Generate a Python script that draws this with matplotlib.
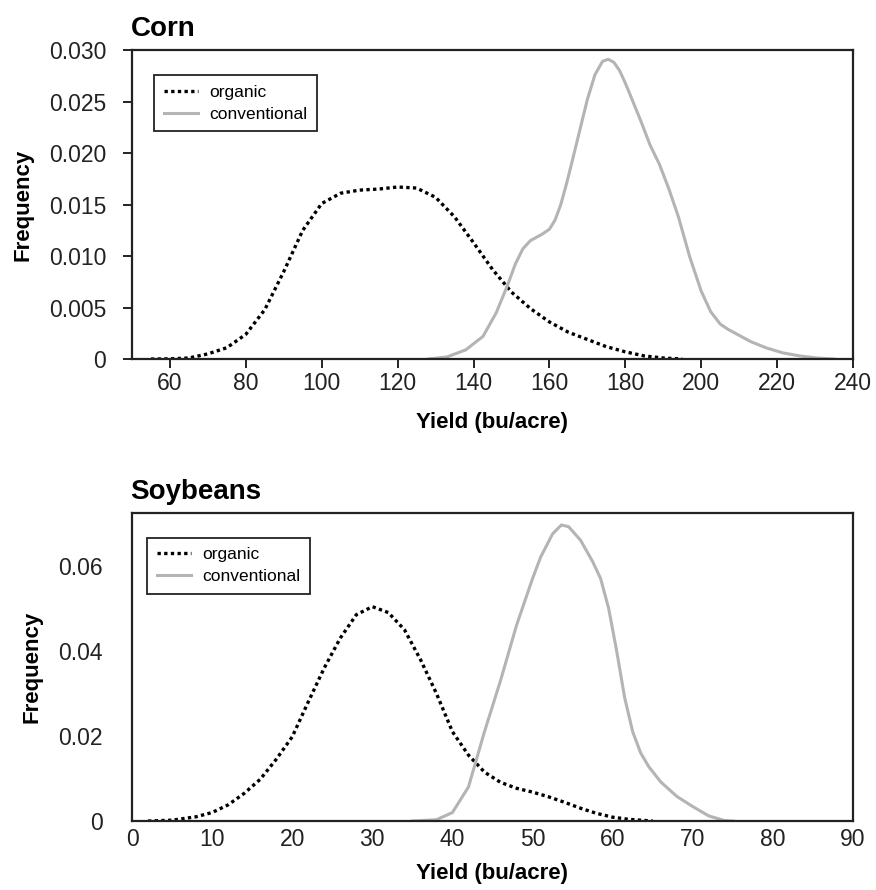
import matplotlib
matplotlib.use("Agg")
import matplotlib.pyplot as plt

plt.rcParams["font.family"] = ["Liberation Sans", "DejaVu Sans"]

# Corn yield density (bu/acre vs frequency)
corn_org_x = [55, 60, 65, 70, 75, 80, 85, 90, 95, 100, 105, 110, 115, 120, 125,
              130, 135, 140, 145, 150, 155, 160, 165, 170, 175, 180, 185, 190, 195]
corn_org_y = [0.0, 0.00002, 0.0001, 0.0005, 0.0011, 0.0024, 0.0048, 0.0085, 0.0125,
              0.0151, 0.0161, 0.0164, 0.0165, 0.0167, 0.0166, 0.0157, 0.0138, 0.0113,
              0.0087, 0.0065, 0.0049, 0.0036, 0.0026, 0.0019, 0.0012, 0.0007, 0.0003,
              0.0001, 0.0]

corn_conv_x = [128, 133, 138, 142.5, 146, 149, 151, 153, 155, 158, 160, 161.5, 163,
               164.5, 166, 168, 170, 172, 174, 175.5, 177, 178.5, 180, 182, 184,
               186.5, 189, 191.5, 194, 197, 200, 202.5, 205, 207, 210, 213, 217,
               221.5, 226, 230.5, 235]
corn_conv_y = [0.0, 0.0002, 0.0009, 0.0022, 0.0045, 0.0072, 0.0092, 0.0107, 0.0115,
               0.0121, 0.0126, 0.0135, 0.0150, 0.0170, 0.0192, 0.0222, 0.0252, 0.0276,
               0.0289, 0.0291, 0.0288, 0.0280, 0.0268, 0.0250, 0.0232, 0.0208, 0.0189,
               0.0165, 0.0138, 0.0099, 0.0066, 0.0046, 0.0034, 0.0029, 0.0023, 0.0017,
               0.0011, 0.0006, 0.0003, 0.0001, 0.0]

# Soybean yield density
soy_org_x = [2, 5, 8, 10, 12, 14, 16, 18, 20, 22, 24, 26, 28, 30, 32, 34, 36, 38,
             40, 42, 44, 46, 48, 50, 52, 54, 56, 58, 60, 62, 65]
soy_org_y = [0.0, 0.0002, 0.001, 0.002, 0.0038, 0.0065, 0.0098, 0.0145, 0.0198,
             0.028, 0.036, 0.043, 0.0485, 0.0504, 0.049, 0.045, 0.038, 0.030, 0.021,
             0.0155, 0.0115, 0.0091, 0.0077, 0.0068, 0.0057, 0.0044, 0.0030, 0.0018,
             0.0009, 0.0004, 0.0]

soy_conv_x = [35, 38, 40, 42, 44, 46, 48, 50, 51, 52.5, 53.6, 54.5, 56, 57.5, 58.5,
              59.5, 60.5, 61.5, 62.5, 63.5, 64.5, 66, 68, 70, 72, 74, 75]
soy_conv_y = [0.0, 0.0003, 0.002, 0.008, 0.021, 0.033, 0.046, 0.057, 0.062, 0.0675,
              0.0696, 0.0692, 0.066, 0.061, 0.057, 0.050, 0.040, 0.029, 0.021, 0.016,
              0.0128, 0.0092, 0.0058, 0.0034, 0.0012, 0.0001, 0.0]

corn_xticks = [60, 80, 100, 120, 140, 160, 180, 200, 220, 240]
corn_yticks = [0, 0.005, 0.010, 0.015, 0.020, 0.025, 0.030]
corn_ylabels = ["0", "0.005", "0.010", "0.015", "0.020", "0.025", "0.030"]
soy_xticks = [0, 10, 20, 30, 40, 50, 60, 70, 80, 90]
soy_yticks = [0, 0.02, 0.04, 0.06]
soy_ylabels = ["0", "0.02", "0.04", "0.06"]

ORG_COLOR = "black"
CONV_COLOR = "#b4b4b4"

fig = plt.figure(figsize=(8.76, 8.90), dpi=100)
ax1 = fig.add_axes([0.1507, 0.5966, 0.823, 0.3472])
ax2 = fig.add_axes([0.1507, 0.0775, 0.823, 0.3465])


def style_panel(ax, title, ticks_on, leg_anchor, ylab_x, xlab_pad):
    for sp in ax.spines.values():
        sp.set_linewidth(1.6)
        sp.set_color("#222222")
    ax.set_title(title, loc="left", fontsize=20, fontweight="bold", pad=10, x=-0.002)
    ax.set_xlabel("Yield (bu/acre)", fontsize=16, fontweight="bold", labelpad=xlab_pad)
    ax.set_ylabel("Frequency", fontsize=16, fontweight="bold")
    ax.yaxis.set_label_coords(ylab_x, 0.5)
    if ticks_on:
        ax.tick_params(axis="x", direction="out", length=6.5, width=1.4,
                       labelsize=16.5, pad=3, colors="#222222")
        ax.tick_params(axis="y", direction="out", length=6.5, width=1.4,
                       labelsize=16.5, pad=12, colors="#222222")
    else:
        ax.tick_params(axis="x", length=0, labelsize=16.5, pad=5, colors="#222222")
        ax.tick_params(axis="y", length=0, labelsize=16.5, pad=21, colors="#222222")
    leg = ax.legend(loc="upper left", bbox_to_anchor=leg_anchor, fontsize=12.5,
                    frameon=True, fancybox=False, edgecolor="#222222",
                    framealpha=1, handlelength=2.0, borderpad=0.55,
                    labelspacing=0.4, handletextpad=0.65, borderaxespad=0)
    leg.get_frame().set_linewidth(1.3)


ax1.plot(corn_org_x, corn_org_y, color=ORG_COLOR, linestyle=(0, (1, 1)), lw=2.4,
         label="organic")
ax1.plot(corn_conv_x, corn_conv_y, color=CONV_COLOR, lw=2.2, label="conventional")
ax1.set_xlim(50, 240)
ax1.set_ylim(0, 0.030)
ax1.set_xticks(corn_xticks)
ax1.set_yticks(corn_yticks)
ax1.set_yticklabels(corn_ylabels)
style_panel(ax1, "Corn", True, (0.0305, 0.919), -0.137, 12)

ax2.plot(soy_org_x, soy_org_y, color=ORG_COLOR, linestyle=(0, (1, 1)), lw=2.4,
         label="organic")
ax2.plot(soy_conv_x, soy_conv_y, color=CONV_COLOR, lw=2.2, label="conventional")
ax2.set_xlim(0, 90)
ax2.set_ylim(0, 0.0725)
ax2.set_xticks(soy_xticks)
ax2.set_yticks(soy_yticks)
ax2.set_yticklabels(soy_ylabels)
style_panel(ax2, "Soybeans", False, (0.021, 0.919), -0.124, 9)

fig.savefig("out.png", dpi=100)
